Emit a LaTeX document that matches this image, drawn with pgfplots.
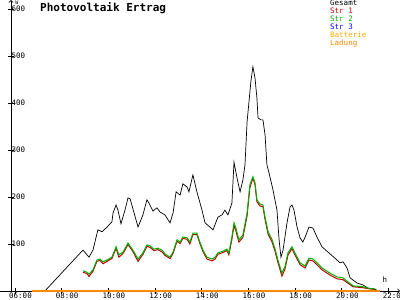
\documentclass[border=0pt]{standalone}
\usepackage{pgfplots}
\pgfplotsset{compat=1.18}
\usepackage{fontspec}
\setmainfont{DejaVu Sans}
\setmonofont{DejaVu Sans Mono}
\definecolor{strone}{HTML}{C00000}
\definecolor{strtwo}{HTML}{00B000}
\definecolor{strthree}{HTML}{0000FF}
\definecolor{batt}{HTML}{FFAA00}
\definecolor{ladung}{HTML}{FF8800}
\begin{document}
\begin{tikzpicture}[x=1pt,y=1pt]
\useasboundingbox (0,0) rectangle (400,300);
\begin{axis}[
  at={(11pt,9pt)}, anchor=south west,
  scale only axis, width=389pt, height=291pt,
  xmin=5.829, xmax=22.489, ymin=0, ymax=619,
  axis lines=left,
  axis line style={->, line width=0.8pt},
  x axis line style={shorten <=-11pt},
  clip=false,
  xtick={6,8,...,22},
  xticklabels={06:00,08:00,10:00,12:00,14:00,16:00,18:00,20:00,22:00},
  ytick={100,200,...,600},
  tick align=center, major tick length=6pt,
  tick style={black, line width=0.8pt},
  /pgf/number format/assume math mode=true,
  tick label style={font=\ttfamily\fontsize{7.5}{8}\selectfont},
  xticklabel style={anchor=north, yshift=2.6pt, xshift=5.5pt, inner sep=1pt},
  yticklabel style={anchor=west, xshift=0pt},
]
\addplot[black, line width=0.7pt] coordinates {
(7.28,0)(8.91,87)(9.17,72)(9.34,87)(9.55,130)(9.73,126)(9.94,136)(10.15,147)(10.20,166)(10.33,183)(10.41,172)(10.54,143)(10.71,172)(10.84,198)(10.93,196)(11.10,166)(11.27,136)(11.48,162)(11.65,194)(11.74,187)(11.91,170)(12.08,177)(12.21,168)(12.42,162)(12.64,145)(12.77,166)(12.90,211)(13.07,204)(13.19,228)(13.37,221)(13.45,211)(13.62,247)(13.79,211)(14.01,172)(14.14,145)(14.35,136)(14.48,130)(14.69,157)(14.87,162)(14.99,172)(15.12,162)(15.29,187)(15.38,274)(15.51,240)(15.64,211)(15.76,236)(15.85,268)(15.94,360)(16.11,449)(16.19,477)(16.28,453)(16.36,411)(16.41,368)(16.54,364)(16.62,364)(16.71,332)(16.79,268)(16.88,251)(17.05,215)(17.22,172)(17.31,109)(17.39,72)(17.48,87)(17.65,145)(17.78,179)(17.86,183)(17.95,172)(18.08,136)(18.21,113)(18.33,104)(18.46,119)(18.59,136)(18.76,134)(18.93,115)(19.15,94)(19.40,83)(19.70,70)(19.92,60)(20.05,62)(20.22,49)(20.35,28)(20.65,17)(20.90,13)(21.12,6)(21.42,4)(21.55,0)
};
\addplot[strone, line width=1pt] coordinates {
(8.91,40)(9.08,37)(9.17,31)(9.34,42)(9.51,63)(9.64,65)(9.77,58)(9.94,63)(10.15,69)(10.33,91)(10.45,72)(10.63,80)(10.84,99)(11.05,84)(11.27,63)(11.48,78)(11.65,95)(11.78,93)(11.95,86)(12.12,88)(12.30,83)(12.42,76)(12.64,69)(12.77,80)(12.94,106)(13.07,101)(13.19,112)(13.37,110)(13.49,100)(13.62,120)(13.79,120)(13.92,101)(14.05,84)(14.22,68)(14.44,64)(14.57,68)(14.69,78)(14.91,82)(15.08,86)(15.16,77)(15.29,110)(15.38,140)(15.46,128)(15.59,104)(15.76,114)(15.94,160)(16.06,220)(16.19,240)(16.28,226)(16.36,190)(16.49,181)(16.62,179)(16.71,152)(16.84,121)(17.01,104)(17.13,86)(17.26,61)(17.43,32)(17.56,46)(17.69,76)(17.86,90)(17.99,77)(18.21,56)(18.42,49)(18.59,66)(18.76,64)(18.93,56)(19.15,45)(19.49,34)(19.79,26)(20.05,24)(20.22,18)(20.48,9)(20.90,7)(21.12,5)(21.42,3)
};
\addplot[strtwo, line width=1pt] coordinates {
(8.91,43)(9.08,40)(9.17,36)(9.34,45)(9.51,66)(9.64,68)(9.77,62)(9.94,66)(10.15,72)(10.33,94)(10.45,77)(10.63,83)(10.84,102)(11.05,87)(11.27,68)(11.48,81)(11.65,98)(11.78,96)(11.95,89)(12.12,91)(12.30,87)(12.42,79)(12.64,72)(12.77,83)(12.94,109)(13.07,104)(13.19,115)(13.37,113)(13.49,104)(13.62,123)(13.79,123)(13.92,104)(14.05,87)(14.22,72)(14.44,68)(14.57,72)(14.69,81)(14.91,85)(15.08,89)(15.16,81)(15.29,115)(15.38,145)(15.46,134)(15.59,109)(15.76,119)(15.94,166)(16.06,226)(16.19,243)(16.28,230)(16.36,194)(16.49,185)(16.62,183)(16.71,157)(16.84,126)(17.01,109)(17.13,91)(17.26,66)(17.43,38)(17.56,51)(17.69,81)(17.86,94)(17.99,81)(18.21,60)(18.42,53)(18.59,70)(18.76,68)(18.93,60)(19.15,49)(19.49,38)(19.79,30)(20.05,28)(20.22,21)(20.48,11)(20.90,9)(21.12,6)(21.42,4)
};
\addplot[strthree, line width=0.7pt] coordinates {(6.73,0)(21.63,0)};
\addplot[batt, line width=1.6pt] coordinates {(6.73,0)(21.63,0)};
\addplot[ladung, line width=1.6pt] coordinates {(6.73,0)(21.63,0)};
\end{axis}
\node[anchor=west, font=\ttfamily\bfseries\fontsize{11}{12}\selectfont, inner sep=0pt] at (40,292) {Photovoltaik Ertrag};
\node[anchor=north west, align=left, inner sep=0pt, font=\ttfamily\fontsize{7.5}{8}\selectfont] at (330,300)
 {\textcolor{black}{Gesamt}\\\textcolor{strone}{Str 1}\\\textcolor{strtwo}{Str 2}\\\textcolor{strthree}{Str 3}\\\textcolor{batt}{Batterie}\\\textcolor{ladung}{Ladung}};
\node[font=\ttfamily\fontsize{5}{5}\selectfont, inner sep=0pt] at (17,297) {W};
\node[font=\ttfamily\fontsize{7.5}{8}\selectfont, inner sep=0pt] at (385,20) {h};
\end{tikzpicture}
\end{document}
